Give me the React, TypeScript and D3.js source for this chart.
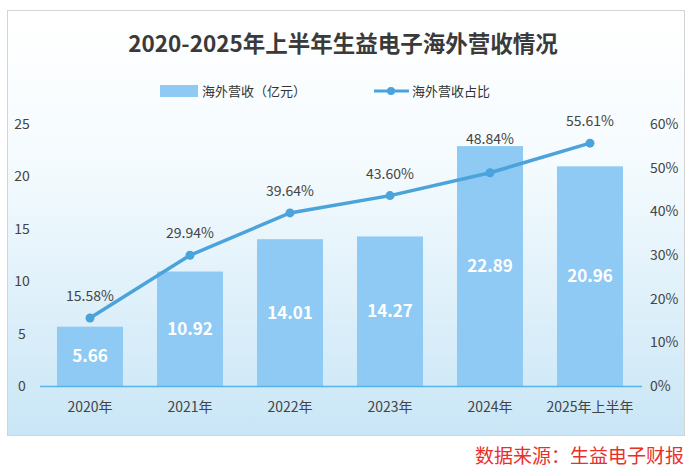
import * as d3 from 'd3'
import React from 'react'

const years = ['2020年', '2021年', '2022年', '2023年', '2024年', '2025年上半年']
const revenue = [5.66, 10.92, 14.01, 14.27, 22.89, 20.96]
const share = [15.58, 29.94, 39.64, 43.6, 48.84, 55.61]
const leftTicks = [0, 5, 10, 15, 20, 25]
const rightTicks = [0, 10, 20, 30, 40, 50, 60]

const W = 692
const H = 476
const font = '"Microsoft YaHei", "Noto Sans CJK SC", "Noto Sans", sans-serif'

const App = (): JSX.Element => {
    const x = d3.scaleBand().domain(years).range([40, 640]).paddingInner(0.34).paddingOuter(0.17)
    const yL = d3.scaleLinear().domain([0, 25]).range([386, 124])
    const yR = d3.scaleLinear().domain([0, 60]).range([386, 124])
    const cx = (d: string) => (x(d) as number) + x.bandwidth() / 2
    const line = d3
        .line<number>()
        .x((_, i) => cx(years[i]))
        .y((d) => yR(d))

    return (
        <svg width={W} height={H} style={{ position: 'absolute', left: 0, top: 0, fontFamily: font }}>
            <defs>
                <linearGradient id="bg" x1="0" y1="0" x2="0" y2="1">
                    <stop offset="0" stopColor="#ffffff" />
                    <stop offset="0.35" stopColor="#f5fbfe" />
                    <stop offset="1" stopColor="#c9e6f6" />
                </linearGradient>
            </defs>
            <rect x={0} y={0} width={W} height={H} fill="#fff" />
            <rect x={7.5} y={10.5} width={677} height={425} fill="url(#bg)" stroke="#d4d4d4" />

            {/* title */}
            <text x={343} y={52} textAnchor="middle" fontSize={22.5} fontWeight={700} fill="#3a3a3a">
                2020-2025年上半年生益电子海外营收情况
            </text>

            {/* legend */}
            <rect x={160} y={85} width={38} height={12} fill="#8fcaf4" />
            <text x={202} y={96} fontSize={13} fill="#333">海外营收（亿元）</text>
            <line x1={374} x2={409} y1={91} y2={91} stroke="#4aa3da" strokeWidth={3} />
            <circle cx={391} cy={91} r={4} fill="#4aa3da" />
            <text x={412} y={96} fontSize={13} fill="#333">海外营收占比</text>

            {/* axes labels */}
            {leftTicks.map((t) => (
                <text key={t} x={22} y={yL(t) + 5} textAnchor="middle" fontSize={14} fill="#444">
                    {t}
                </text>
            ))}
            {rightTicks.map((t) => (
                <text key={t} x={650} y={yR(t) + 5} fontSize={14} fill="#444">
                    {`${t}%`}
                </text>
            ))}

            {/* bars */}
            {years.map((d, i) => (
                <g key={d}>
                    <rect
                        x={x(d)}
                        y={yL(revenue[i])}
                        width={x.bandwidth()}
                        height={yL(0) - yL(revenue[i])}
                        fill="#8fcaf4"
                    />
                    <text
                        x={cx(d)}
                        y={(yL(revenue[i]) + yL(0)) / 2 + 6}
                        textAnchor="middle"
                        fontSize={17}
                        fontWeight={700}
                        fill="#fff"
                    >
                        {revenue[i].toFixed(2)}
                    </text>
                    <text x={cx(d)} y={412} textAnchor="middle" fontSize={14} fill="#444">
                        {d}
                    </text>
                </g>
            ))}

            <line x1={40} x2={642} y1={386.5} y2={386.5} stroke="#5ab4ec" strokeWidth={1.5} />

            {/* line */}
            <path d={line(share) ?? ''} fill="none" stroke="#4aa3da" strokeWidth={3.5} />
            {share.map((v, i) => (
                <g key={years[i]}>
                    <circle cx={cx(years[i])} cy={yR(v)} r={4.5} fill="#4aa3da" />
                    <text
                        x={cx(years[i])}
                        y={Math.min(yR(v) - 17, yL(revenue[i]) - 2)}
                        textAnchor="middle"
                        fontSize={14}
                        fill="#444"
                    >
                        {`${v.toFixed(2)}%`}
                    </text>
                </g>
            ))}

            <text x={684} y={463} textAnchor="end" fontSize={19} fill="#e8302a">
                数据来源：生益电子财报
            </text>
        </svg>
    )
}

export default App
